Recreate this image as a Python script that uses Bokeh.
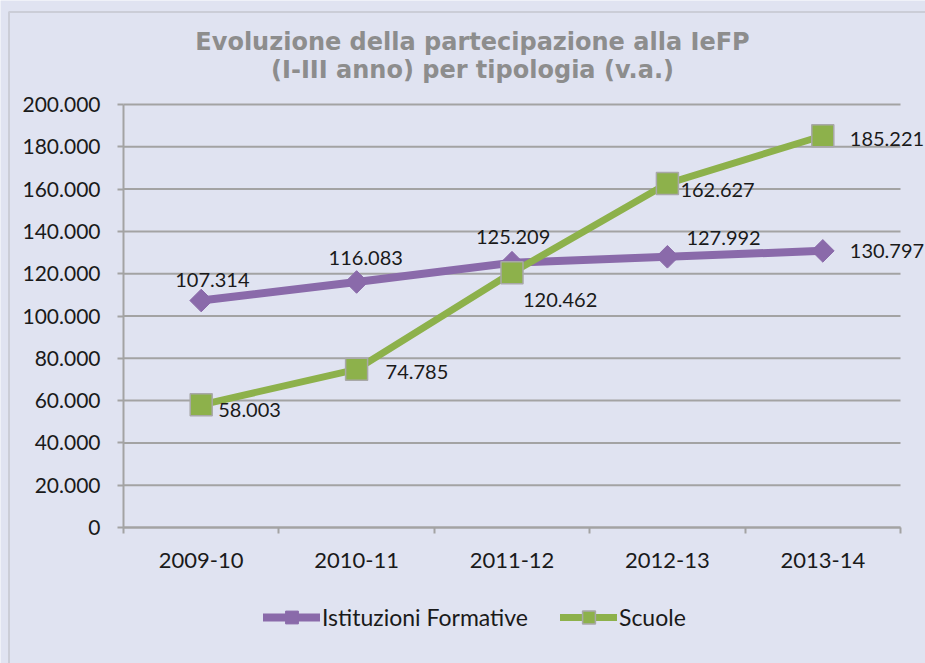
from bokeh.plotting import figure
from bokeh.models import (ColumnDataSource, LabelSet, Label, Legend, LegendItem,
                          FixedTicker, Range1d, BoxAnnotation)
from bokeh.core.properties import value
from bokeh.embed import file_html
from bokeh.resources import INLINE
import math

# ---- data ----
categories = ["2009-10", "2010-11", "2011-12", "2012-13", "2013-14"]
istituzioni = [107314, 116083, 125209, 127992, 130797]
scuole = [58003, 74785, 120462, 162627, 185221]
y_ticks = [0, 20000, 40000, 60000, 80000, 100000, 120000, 140000, 160000, 180000, 200000]
title_lines = ["Evoluzione della partecipazione alla IeFP", "(I-III anno) per tipologia (v.a.)"]
series_names = ["Istituzioni Formative", "Scuole"]

# ---- layout / style constants ----
W, H = 925, 663
X0_PX, X_STEP = 123, 155.4          # pixel of x=0, pixels per category
Y0_PX, Y_SCALE = 527, 423 / 200000  # pixel of y=0, pixels per unit

# label offsets (screen px)
ist_dx = [-26, -28, -36, 19, 27]
ist_dy = [21, 24, 26, 19, 0]
scu_dx = [17, 29, 11, 13, 27]
scu_dy = [-5, -3, -27, -6, -3]

BG = "#E0E3F1"
GRID = "#A3A3A3"
PURPLE = "#8A6AAA"
GREEN = "#8DB14B"
FONT = "Lato"
TXT = "#1a1a1a"


def px_x(px):
    return (px - X0_PX) / X_STEP


def px_y(py):
    return (Y0_PX - py) / Y_SCALE


def fmt(v):
    return f"{v:,}".replace(",", ".")


n = len(categories)
xs = [i + 0.5 for i in range(n)]

p = figure(width=W, height=H, output_backend="svg", toolbar_location=None,
           x_range=Range1d(px_x(0), px_x(W)), y_range=Range1d(px_y(H), px_y(0)),
           min_border=0)
p.background_fill_color = BG
p.border_fill_color = BG
p.outline_line_color = None
p.xgrid.visible = False
p.ygrid.visible = False

# outer chart border (top/left visible)
p.add_layout(BoxAnnotation(left=px_x(8.5), top=px_y(11.5), right=px_x(W + 20), bottom=px_y(H + 20),
                           fill_alpha=0, line_color="#9A9A9A", line_width=2))

# horizontal grid lines, limited to the category area
p.segment(x0=[0] * len(y_ticks), x1=[n] * len(y_ticks), y0=y_ticks, y1=y_ticks,
          line_color=GRID, line_width=2)

p.yaxis.fixed_location = 0
p.yaxis.bounds = (y_ticks[0], y_ticks[-1])
p.yaxis.ticker = FixedTicker(ticks=y_ticks)
p.yaxis.major_label_overrides = {v: fmt(v) for v in y_ticks}
p.yaxis.axis_line_color = GRID
p.yaxis.axis_line_width = 2
p.yaxis.major_tick_line_color = GRID
p.yaxis.major_tick_line_width = 2
p.yaxis.major_tick_out = 6
p.yaxis.major_tick_in = 0
p.yaxis.minor_tick_line_color = None
p.yaxis.major_label_standoff = 17
p.yaxis.major_label_text_font = FONT
p.yaxis.major_label_text_font_size = "21px"
p.yaxis.major_label_text_color = TXT

p.xaxis.fixed_location = 0
p.xaxis.bounds = (0, n)
p.xaxis.ticker = FixedTicker(ticks=xs, minor_ticks=list(range(n + 1)))
p.xaxis.major_label_overrides = {x: c for x, c in zip(xs, categories)}
p.xaxis.axis_line_color = GRID
p.xaxis.axis_line_width = 2
p.xaxis.major_tick_line_color = None
p.xaxis.major_tick_out = 0
p.xaxis.major_tick_in = 0
p.xaxis.minor_tick_line_color = GRID
p.xaxis.minor_tick_line_width = 2
p.xaxis.minor_tick_out = 6
p.xaxis.minor_tick_in = 0
p.xaxis.major_label_standoff = 19
p.xaxis.major_label_text_font = FONT
p.xaxis.major_label_text_font_size = "22px"
p.xaxis.major_label_text_color = TXT

src_i = ColumnDataSource(dict(x=xs, y=istituzioni, t=[fmt(v) for v in istituzioni],
                              dx=ist_dx, dy=ist_dy))
src_s = ColumnDataSource(dict(x=xs, y=scuole, t=[fmt(v) for v in scuole],
                              dx=scu_dx, dy=scu_dy))

li = p.line("x", "y", source=src_i, line_color=PURPLE, line_width=8, line_cap="round")
mi = p.scatter("x", "y", source=src_i, marker="square", angle=math.pi / 4, size=16,
               fill_color=PURPLE, line_color=PURPLE)
ls = p.line("x", "y", source=src_s, line_color=GREEN, line_width=7, line_cap="round")
ms = p.scatter("x", "y", source=src_s, marker="square", size=22,
               fill_color=GREEN, line_color="#A8A8A8", line_width=1.5)

for src in (src_i, src_s):
    p.add_layout(LabelSet(x="x", y="y", text="t", source=src, x_offset="dx", y_offset="dy",
                          text_align="left", text_baseline="middle",
                          text_font=value(FONT), text_font_size="20px", text_color=TXT))

# title (two centred lines)
for txt, base_px in zip(title_lines, (41, 69)):
    p.add_layout(Label(x=px_x(472), y=px_y(base_px), text=txt, text_align="center",
                       text_baseline="alphabetic", text_font="DejaVu Sans",
                       text_font_style="bold", text_font_size="24px", text_color="#8D8D8D"))

legend = Legend(items=[LegendItem(label=series_names[0], renderers=[li, mi]),
                       LegendItem(label=series_names[1], renderers=[ls, ms])],
                location=(263, 30), orientation="horizontal",
                background_fill_alpha=0, border_line_color=None,
                label_text_font=FONT, label_text_font_size="23px", label_text_color=TXT,
                glyph_width=57, glyph_height=32, label_standoff=2, spacing=32,
                padding=0, margin=0)
p.add_layout(legend, "center")

html = file_html(p, INLINE)
open("out.html", "w").write(html)
